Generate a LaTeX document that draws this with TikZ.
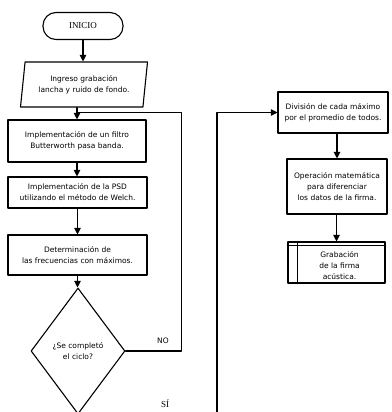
\documentclass[tikz,border=0pt]{standalone}
\usepackage{fontspec}
\setmainfont{DejaVu Sans}
\newfontfamily\serifa{Liberation Serif}
\usetikzlibrary{shapes.geometric,arrows.meta,positioning}

\begin{document}
\begin{tikzpicture}[x=1pt, y=-1pt, line cap=round, line join=round,
  caja/.style={draw, line width=1.1pt, align=center, inner sep=1pt,
    font=\fontsize{7.5}{11}\selectfont},
  terminal/.style={draw, line width=1.1pt, rounded corners=13pt,
    minimum width=80pt, minimum height=27pt, font=\serifa\fontsize{9}{10}\selectfont},
  entrada/.style={caja, trapezium, trapezium left angle=80, trapezium right angle=100,
    trapezium stretches=true, minimum width=128pt, minimum height=45pt},
  decision/.style={caja, diamond, minimum width=94pt, minimum height=126pt},
  linea/.style={line width=1.1pt},
  flecha/.style={line width=1.1pt, -{Triangle[length=6.5pt,width=6.5pt]}},
  etiqueta/.style={font=\fontsize{7.5}{9}\selectfont}]
  \useasboundingbox (0,0) rectangle (391,412);

  % columna izquierda
  \node[terminal] (inicio) at (83,26) {INICIO};
  \node[entrada] (ingreso) at (84,84.5) {Ingreso grabación\\lancha y ruido de fondo.};
  \node[caja, minimum width=138pt, minimum height=42pt] (filtro) at (77,141)
    {Implementación de un filtro\\Butterworth pasa banda.};
  \node[caja, minimum width=139pt, minimum height=31pt] (psd) at (77.5,192.5)
    {Implementación de la PSD\\utilizando el método de Welch.};
  \node[caja, minimum width=139pt, minimum height=40pt] (frec) at (77.5,255)
    {Determinación de\\las frecuencias con máximos.};
  \node[decision] (ciclo) at (78,351) {¿Se completó\\el ciclo?};

  % columna derecha
  \node[caja, minimum width=110pt, minimum height=41pt] (division) at (333,112.5)
    {División de cada máximo\\por el promedio de todos.};
  \node[caja, minimum width=100pt, minimum height=55pt] (operacion) at (337,186.5)
    {Operación matemática\\para diferenciar\\los datos de la firma.};
  \node[caja, minimum width=97pt, minimum height=41pt] (grabacion) at (336.5,262.5) {};
  \draw[linea] ([yshift=-4pt]grabacion.north west) -- ([yshift=-4pt]grabacion.north east);
  \draw[linea] ([xshift=10pt]grabacion.north west) -- ([xshift=10pt]grabacion.south west);
  \node[caja, draw=none] (grabtexto) at ([xshift=3pt,yshift=-3pt]grabacion.center)
    {Grabación\\de la firma\\acústica.};

  % conectores
  \draw[flecha] (inicio.south) -- (inicio.south |- ingreso.north);
  \draw[flecha] (filtro.north |- ingreso.south) -- (filtro.north);
  \draw[flecha] (filtro.south) -- (filtro.south |- psd.north);
  \draw[flecha] (psd.south) -- (psd.south |- frec.north);
  \draw[flecha] (frec.south) -- (frec.south |- ciclo.north);
  \coordinate (union) at (filtro.north |- division.west);
  \draw[linea] (ciclo.east) -- ++(56,0) |- (union);
  \node[etiqueta] (no) at (163,341) {NO};

  \coordinate (abajo) at (217,412);
  \draw[flecha] (abajo) |- (division.west);
  \node[font=\serifa\fontsize{9}{10}\selectfont] (si) at (165,404) {SÍ};

  \draw[flecha] (operacion.north |- division.south) -- (operacion.north);
  \draw[flecha] (grabacion.north |- operacion.south) -- (grabacion.north);
\end{tikzpicture}
\end{document}
